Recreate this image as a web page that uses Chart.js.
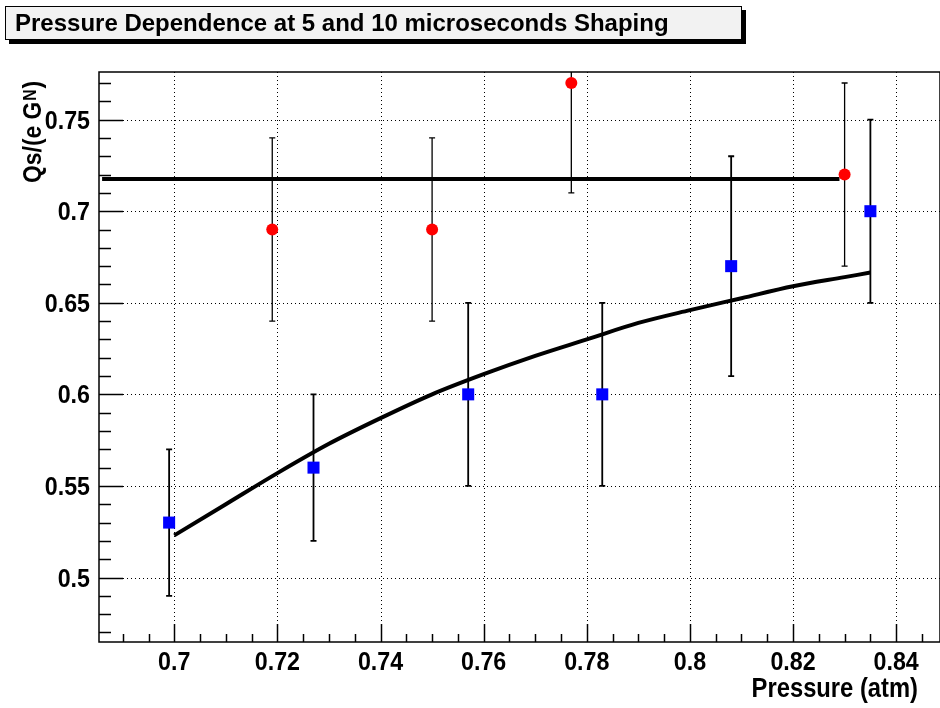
<!DOCTYPE html>
<html>
<head>
<meta charset="utf-8">
<script src="https://cdn.jsdelivr.net/npm/chart.js@4.4.1/dist/chart.umd.min.js"></script>
<style>
  body { margin: 0; background: #fff; overflow: hidden; }
</style>
</head>
<body>
<canvas id="myChart" width="940" height="708"></canvas>
<script>
  // data
  const redX = [0.719, 0.750, 0.777, 0.830];
  const redY = [0.69, 0.69, 0.77, 0.72];
  const redErr = [0.05, 0.05, 0.06, 0.05];

  const blueX = [0.699, 0.727, 0.757, 0.783, 0.808, 0.835];
  const blueY = [0.53, 0.56, 0.60, 0.60, 0.67, 0.70];
  const blueErr = [0.04, 0.04, 0.05, 0.05, 0.06, 0.05];

  // fitted lines
  const flatX = [0.686, 0.829];
  const flatY = [0.7176, 0.7176];
  const curveX = [0.700, 0.710, 0.720, 0.730, 0.740, 0.750, 0.760, 0.770, 0.780, 0.790, 0.800, 0.810, 0.820, 0.830, 0.835];
  const curveY = [0.523, 0.540, 0.557, 0.573, 0.587, 0.600, 0.611, 0.621, 0.630, 0.639, 0.646, 0.6525, 0.659, 0.664, 0.6665];

  const xTicks = [0.70, 0.72, 0.74, 0.76, 0.78, 0.80, 0.82, 0.84];
  const xTickLabels = ['0.7', '0.72', '0.74', '0.76', '0.78', '0.8', '0.82', '0.84'];
  const yTicks = [0.50, 0.55, 0.60, 0.65, 0.70, 0.75];
  const yTickLabels = ['0.5', '0.55', '0.6', '0.65', '0.7', '0.75'];

  const titleText = 'Pressure Dependence at 5 and 10 microseconds Shaping';
  const xTitle = 'Pressure (atm)';

  const FONT = '"Liberation Sans", Arial, Helvetica, sans-serif';

  function pts(xs, ys) {
    return xs.map((v, i) => ({ x: v, y: ys[i] }));
  }

  // bold text, squeezed a bit horizontally like the original font
  function text(ctx, str, x, y, size, sx, align) {
    ctx.save();
    ctx.translate(x, y);
    ctx.scale(sx, 1);
    ctx.font = 'bold ' + size + 'px ' + FONT;
    ctx.textAlign = align;
    ctx.textBaseline = 'alphabetic';
    ctx.fillText(str, 0, 0);
    ctx.restore();
  }

  // ROOT-like frame, dotted grid, inner ticks, error bars, labels
  const rootFrame = {
    id: 'rootFrame',
    beforeDatasetsDraw(chart) {
      const { ctx, chartArea: a, scales: { x, y } } = chart;
      ctx.save();
      ctx.strokeStyle = '#000';
      ctx.lineWidth = 1;
      ctx.setLineDash([1, 3]);
      xTicks.forEach(v => {
        const px = Math.round(x.getPixelForValue(v)) + 0.5;
        ctx.beginPath(); ctx.moveTo(px, a.top); ctx.lineTo(px, a.bottom); ctx.stroke();
      });
      yTicks.forEach(v => {
        const py = Math.round(y.getPixelForValue(v)) + 0.5;
        ctx.beginPath(); ctx.moveTo(a.left, py); ctx.lineTo(a.right, py); ctx.stroke();
      });
      ctx.setLineDash([]);

      // frame
      ctx.lineWidth = 1.5;
      ctx.strokeRect(a.left, a.top, a.right - a.left, a.bottom - a.top);

      // y ticks every 0.01, major every 0.05
      for (let k = 47; k <= 77; k++) {
        const py = Math.round(y.getPixelForValue(k / 100)) + 0.5;
        const len = k % 5 === 0 ? 24 : 12;
        ctx.beginPath(); ctx.moveTo(a.left, py); ctx.lineTo(a.left + len, py); ctx.stroke();
      }
      // x ticks every 0.005, major every 0.02
      for (let k = 138; k <= 169; k++) {
        const px = Math.round(x.getPixelForValue(k / 200)) + 0.5;
        const len = k % 4 === 0 ? 18 : 8;
        ctx.beginPath(); ctx.moveTo(px, a.bottom); ctx.lineTo(px, a.bottom - len); ctx.stroke();
      }

      // tick labels
      ctx.fillStyle = '#000';
      xTicks.forEach((v, i) => text(ctx, xTickLabels[i], x.getPixelForValue(v), 670, 25, 0.93, 'center'));
      yTicks.forEach((v, i) => text(ctx, yTickLabels[i], 90, y.getPixelForValue(v) + 9, 25, 0.93, 'right'));

      // error bars
      ctx.beginPath();
      ctx.rect(a.left, a.top, a.right - a.left, a.bottom - a.top);
      ctx.clip();
      const bars = (xs, ys, es, w) => {
        ctx.lineWidth = w;
        xs.forEach((v, i) => {
          const px = x.getPixelForValue(v);
          const y1 = y.getPixelForValue(ys[i] + es[i]);
          const y2 = y.getPixelForValue(ys[i] - es[i]);
          ctx.beginPath();
          ctx.moveTo(px, y1); ctx.lineTo(px, y2);
          ctx.moveTo(px - 3, y1); ctx.lineTo(px + 3, y1);
          ctx.moveTo(px - 3, y2); ctx.lineTo(px + 3, y2);
          ctx.stroke();
        });
      };
      bars(redX, redY, redErr, 1.3);
      bars(blueX, blueY, blueErr, 1.8);
      ctx.restore();
    },
    afterDraw(chart) {
      const { ctx } = chart;
      ctx.save();
      // title box with shadow
      ctx.fillStyle = '#000';
      ctx.fillRect(9, 40, 737, 4);
      ctx.fillRect(742, 10, 4, 34);
      ctx.fillStyle = '#f2f2f2';
      ctx.fillRect(5, 6, 737, 34);
      ctx.strokeStyle = '#000';
      ctx.lineWidth = 1;
      ctx.strokeRect(5.5, 6.5, 736, 33);
      ctx.fillStyle = '#000';
      text(ctx, titleText, 15, 31, 24, 1, 'left');

      // x axis title
      text(ctx, xTitle, 918, 697, 27, 0.88, 'right');

      // y axis title, rotated, N raised small
      ctx.translate(41, 183);
      ctx.rotate(-Math.PI / 2);
      ctx.scale(0.88, 1);
      ctx.textAlign = 'left';
      ctx.font = 'bold 26px ' + FONT;
      const part1 = 'Qs/(e G';
      ctx.fillText(part1, 0, 0);
      let w = ctx.measureText(part1).width + 1;
      ctx.font = 'bold 18px ' + FONT;
      ctx.fillText('N', w, -5);
      w += ctx.measureText('N').width + 1;
      ctx.font = 'bold 26px ' + FONT;
      ctx.fillText(')', w, 0);
      ctx.restore();
    }
  };

  const config = {
    type: 'scatter',
    data: {
      datasets: [
        {
          data: pts(redX, redY),
          pointStyle: 'circle',
          pointRadius: 6,
          pointBackgroundColor: '#ff0000',
          pointBorderWidth: 0
        },
        {
          data: pts(blueX, blueY),
          pointStyle: 'rect',
          pointRadius: 8.5,
          pointBackgroundColor: '#0000ff',
          pointBorderWidth: 0
        },
        {
          data: pts(flatX, flatY),
          showLine: true,
          borderColor: '#000',
          borderWidth: 4,
          pointRadius: 0
        },
        {
          data: pts(curveX, curveY),
          showLine: true,
          borderColor: '#000',
          borderWidth: 4,
          pointRadius: 0,
          cubicInterpolationMode: 'monotone'
        }
      ]
    },
    options: {
      responsive: false,
      animation: false,
      devicePixelRatio: 1,
      layout: { autoPadding: false, padding: { top: 72, left: 0, right: 0, bottom: 0 } },
      plugins: { legend: { display: false }, tooltip: { enabled: false } },
      scales: {
        x: {
          type: 'linear',
          min: 0.6854,
          max: 0.8485,
          grid: { display: false },
          border: { display: false },
          ticks: { display: false },
          afterFit: s => { s.height = 66; s.paddingLeft = 0; s.paddingRight = 0; }
        },
        y: {
          type: 'linear',
          min: 0.4648,
          max: 0.776,
          grid: { display: false },
          border: { display: false },
          ticks: { display: false },
          afterFit: s => { s.width = 99; s.paddingTop = 0; s.paddingBottom = 0; }
        }
      }
    },
    plugins: [rootFrame]
  };

  const myChart = new Chart(document.getElementById('myChart'), config);
</script>
</body>
</html>
